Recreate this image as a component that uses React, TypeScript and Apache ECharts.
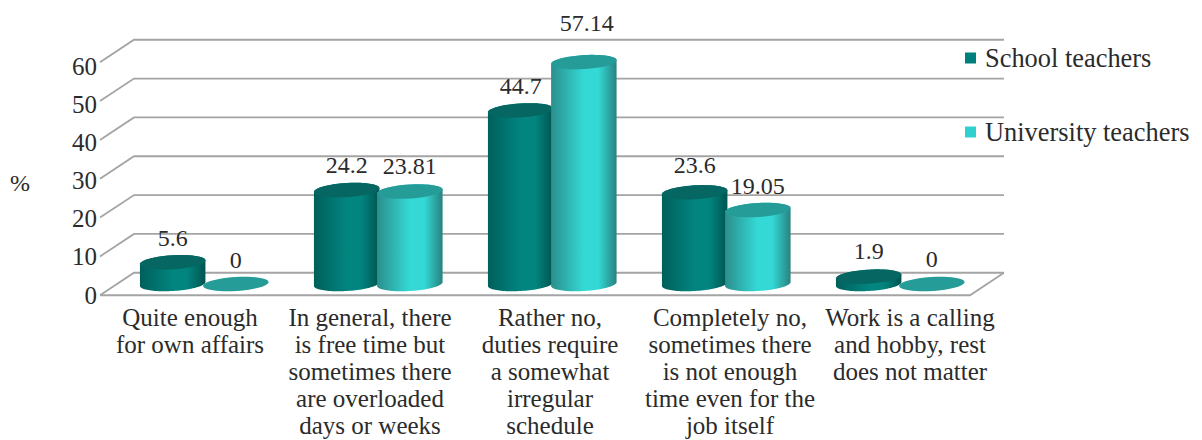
import React, { useEffect, useRef } from "react";
import * as echarts from "echarts";

const categories = [
  "Quite enough\nfor own affairs",
  "In general, there\nis free time but\nsometimes there\nare overloaded\ndays or weeks",
  "Rather no,\nduties require\na somewhat\nirregular\nschedule",
  "Completely no,\nsometimes there\nis not enough\ntime even for the\njob itself",
  "Work is a calling\nand hobby, rest\ndoes not matter",
];
const schoolTeachers = [5.6, 24.2, 44.7, 23.6, 1.9];
const universityTeachers = [0, 23.81, 57.14, 19.05, 0];
const schoolLabels = ["5.6", "24.2", "44.7", "23.6", "1.9"];
const universityLabels = ["0", "23.81", "57.14", "19.05", "0"];
const universityLift = [24, 26, 39, 24, 25];
const schoolLift = [24, 25, 24, 27, 26];
const gridTicks = [0, 10, 20, 30, 40, 50, 60];

const FONT = '"Liberation Serif", serif';
const TEXT = "#2b2b2b";
const LINE = "#a4a4a4";
const DEPTH_X = 17;
const DEPTH_Y = 11.25;
const RX = 32.8;
const RY = 7;
const TILT = (-3.5 * Math.PI) / 180;

const ellipsePoint = (cx: number, cy: number, t: number) => {
  const x = RX * Math.cos(t);
  const y = RY * Math.sin(t);
  return [cx + x * Math.cos(TILT) - y * Math.sin(TILT), cy + x * Math.sin(TILT) + y * Math.cos(TILT)];
};
const arcPoints = (cx: number, cy: number, from: number, to: number) => {
  const pts: number[][] = [];
  const n = 48;
  for (let i = 0; i <= n; i++) pts.push(ellipsePoint(cx, cy, from + ((to - from) * i) / n));
  return pts;
};
const sideGradient = (edge: string, mid: string, edge2: string) => ({
  type: "linear", x: 0, y: 0, x2: 1, y2: 0,
  colorStops: [
    { offset: 0, color: edge },
    { offset: 0.5, color: mid },
    { offset: 0.72, color: mid },
    { offset: 1, color: edge2 },
  ],
});

const cylinder = (
  labels: string[], lifts: number[], offset: number,
  side: any, topColor: string, flatColor: string,
) => (params: any, api: any) => {
  const i = api.value(0);
  const v = api.value(1);
  const band = api.size([1, 0])[0];
  const base = api.coord([i, 0]);
  const top = api.coord([i, v]);
  const cx = base[0] + band * offset;
  const children: any[] = [];
  if (v > 0) {
    const body = [...arcPoints(cx, base[1], 0, Math.PI), ...arcPoints(cx, top[1], Math.PI, 2 * Math.PI)];
    children.push({ type: "polygon", shape: { points: body }, style: { fill: side } });
  }
  children.push({
    type: "polygon",
    shape: { points: arcPoints(cx, top[1], 0, 2 * Math.PI) },
    style: { fill: v > 0 ? topColor : flatColor },
  });
  children.push({
    type: "text",
    x: cx + (labels[i] === "57.14" ? 3 : 0),
    y: top[1] - lifts[i],
    style: {
      text: labels[i], fill: TEXT, font: `24px ${FONT}`,
      textAlign: "center", textVerticalAlign: "middle",
    },
  });
  return { type: "group", children };
};

const gridRender = (params: any, api: any) => {
  const v = api.value(1);
  const cs = params.coordSys;
  const y = api.coord([0, v])[1];
  const left = cs.x;
  const right = cs.x + cs.width;
  const style = { stroke: LINE, lineWidth: 1.8, fill: "none" };
  const children: any[] = [
    {
      type: "polyline",
      shape: { points: [[left - DEPTH_X, y + DEPTH_Y], [left + DEPTH_X, y - DEPTH_Y], [right + DEPTH_X, y - DEPTH_Y]] },
      style,
    },
  ];
  if (v === 0) {
    children.push({
      type: "polyline",
      shape: { points: [[left - DEPTH_X, y + DEPTH_Y], [right - DEPTH_X, y + DEPTH_Y], [right + DEPTH_X, y - DEPTH_Y]] },
      style,
    });
  }
  return { type: "group", children };
};

export default function App() {
  const ref = useRef<HTMLDivElement>(null);
  useEffect(() => {
    const chart = echarts.init(ref.current!, null, { renderer: "svg" });
    chart.setOption({
      animation: false,
      backgroundColor: "#ffffff",
      grid: [
        { left: 117, top: 51, width: 870, height: 233, outerBoundsMode: "none" },
        { left: 100, top: 66, width: 900, height: 229, outerBoundsMode: "none" },
      ],
      xAxis: [
        { type: "category", gridIndex: 0, data: categories, show: false },
        {
          type: "category", gridIndex: 1, data: categories,
          axisLine: { show: false }, axisTick: { show: false },
          axisLabel: {
            interval: 0, margin: 9, color: TEXT, fontFamily: FONT, fontSize: 25,
            lineHeight: 27, align: "center", verticalAlign: "top",
          },
        },
      ],
      yAxis: [
        { type: "value", gridIndex: 0, min: 0, max: 60, interval: 10, show: false },
        {
          type: "value", gridIndex: 1, min: 0, max: 60, interval: 10,
          axisLine: { show: false }, axisTick: { show: false }, splitLine: { show: false },
          axisLabel: { margin: 3, color: TEXT, fontFamily: FONT, fontSize: 25 },
        },
      ],
      legend: {
        show: true, orient: "vertical", left: 960, top: 40, itemWidth: 11, itemHeight: 11, itemGap: 48,
        data: [
          { name: "School teachers", icon: "rect" },
          { name: "University teachers", icon: "rect" },
        ],
        textStyle: { color: TEXT, fontFamily: FONT, fontSize: 26.4, padding: [0, 0, 16, 4] },
      },
      graphic: [
        {
          type: "text", x: 20, y: 183, z: 10,
          style: { text: "%", fill: TEXT, font: `24px ${FONT}`, textAlign: "center", textVerticalAlign: "middle" },
        },
      ],
      series: [
        {
          type: "custom", name: "grid", silent: true, z: 1, clip: false,
          renderItem: gridRender,
          encode: { x: 0, y: 1 },
          data: gridTicks.map((t) => [0, t]),
        },
        {
          type: "custom", name: "School teachers", z: 2, clip: false,
          itemStyle: { color: "#00807c" },
          renderItem: cylinder(
            schoolLabels, schoolLift, -0.18,
            sideGradient("#005f5b", "#02857f", "#005450"), "#056662", "#056662",
          ),
          encode: { x: 0, y: 1 },
          data: schoolTeachers.map((v, i) => [i, v]),
        },
        {
          type: "custom", name: "University teachers", z: 3, clip: false,
          itemStyle: { color: "#2fd0cd" },
          renderItem: cylinder(
            universityLabels, universityLift, 0.183,
            sideGradient("#2b8f8c", "#34d9d6", "#27827f"), "#269c99", "#269c99",
          ),
          encode: { x: 0, y: 1 },
          data: universityTeachers.map((v, i) => [i, v]),
        },
      ],
    });
    return () => chart.dispose();
  }, []);
  return <div ref={ref} style={{ position: "absolute", left: 0, top: 0, width: 1202, height: 440 }} />;
}
